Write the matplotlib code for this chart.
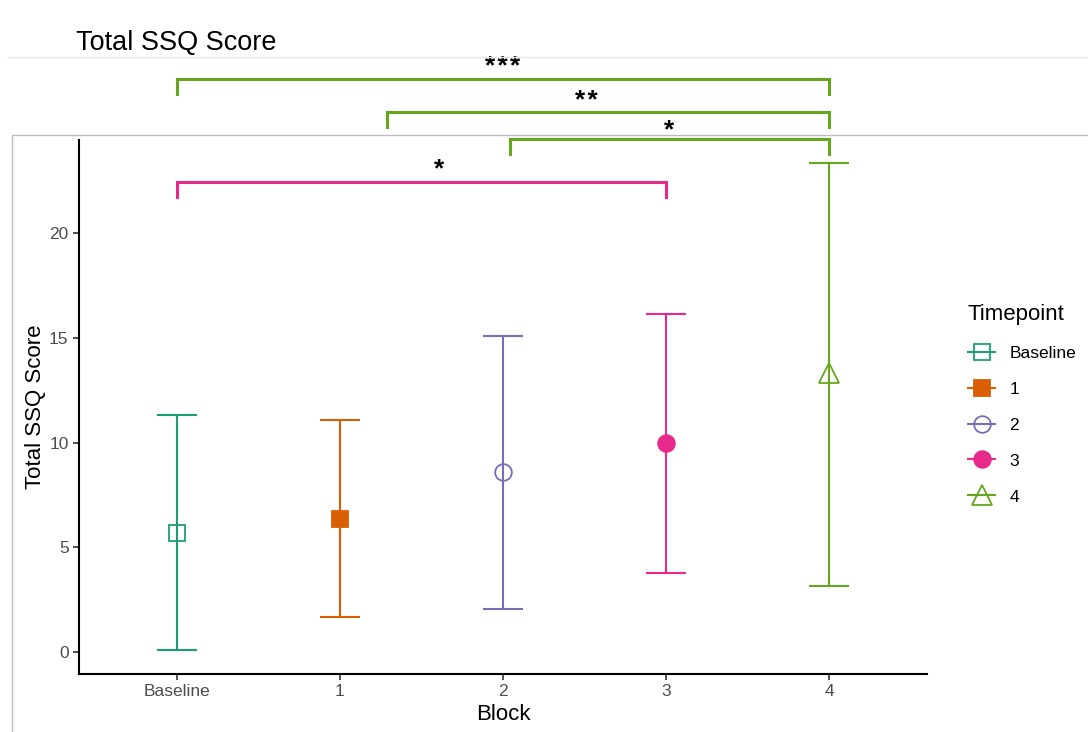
import matplotlib.pyplot as plt
from matplotlib.lines import Line2D

plt.rcParams['font.family'] = ['Liberation Sans', 'DejaVu Sans']

# ------------------------------
# data
# ------------------------------
blocks = ['Baseline', '1', '2', '3', '4']
means = [5.68, 6.35, 8.59, 9.98, 13.32]
lower = [0.10, 1.67, 2.05, 3.77, 3.15]
upper = [11.31, 11.07, 15.08, 16.13, 23.34]
colors = ['#1B9E77', '#D95F02', '#7570B3', '#E7298A', '#66A61E']
markers = ['s', 's', 'o', 'o', '^']
filled = [False, True, False, True, False]

# significance brackets
br_start = [0, 2.04, 1.29, 0]
br_end = [3, 4, 4, 4]
br_y = [22.43, 24.49, 25.78, 27.35]
br_color = ['#E7298A', '#66A61E', '#66A61E', '#66A61E']
lab_text = ['*', '*', '**', '***']
lab_x = [1.61, 3.02, 2.51, 2.0]
lab_y = [23.02, 24.88, 26.29, 27.93]

fig = plt.figure(figsize=(10.88, 7.32), dpi=100)
ax = fig.add_axes([79/1088, 1 - 674/732, (927 - 79)/1088, (674 - 140)/732])

for i in range(len(blocks)):
    ax.errorbar(i, means[i], yerr=[[means[i] - lower[i]], [upper[i] - means[i]]],
                fmt='none', ecolor=colors[i], elinewidth=1.5, capsize=14.5, capthick=1.5)
    ms = 15 if markers[i] == '^' else 12
    ax.plot(i, means[i], marker=markers[i], ms=ms, color=colors[i],
            mfc=colors[i] if filled[i] else 'none', mec=colors[i], mew=1.3, ls='none', zorder=3)

# brackets
tick_drop = 0.7
for x0, x1, y, c in zip(br_start, br_end, br_y, br_color):
    ax.plot([x0, x0, x1, x1], [y - tick_drop, y, y, y - tick_drop], color=c, lw=2.2,
            clip_on=False, solid_joinstyle='miter')
for t, x, y in zip(lab_text, lab_x, lab_y):
    ax.text(x, y, '\u200a'.join(t), ha='center', va='center', fontsize=19,
            fontweight='bold', clip_on=False)

ax.set_xlim(-0.6, 4.6)
ax.set_ylim(-1.05, 24.44)
ax.set_xticks(range(len(blocks)))
ax.set_xticklabels(blocks)
ax.set_yticks([0, 5, 10, 15, 20])
ax.tick_params(axis='both', colors='#333333', labelcolor='#4D4D4D', labelsize=12.5,
               length=4, width=1.2)
for s in ['top', 'right']:
    ax.spines[s].set_visible(False)
for s in ['left', 'bottom']:
    ax.spines[s].set_linewidth(1.5)
    ax.spines[s].set_color('black')
ax.set_xlabel('Block', fontsize=16, labelpad=3)
ax.set_ylabel('Total SSQ Score', fontsize=16, labelpad=2)

# legend
handles = []
for i in range(len(blocks)):
    ms = 15 if markers[i] == '^' else 12
    handles.append(Line2D([0], [0], color=colors[i], marker=markers[i], ms=ms, lw=1.5,
                          mfc=colors[i] if filled[i] else 'none', mec=colors[i], mew=1.3))
leg = fig.legend(handles, blocks, title='Timepoint', loc='upper left',
                 bbox_to_anchor=(952/1088, 1 - 288/732), frameon=False, fontsize=12.5,
                 title_fontsize=16, handlelength=1.6, labelspacing=1.2, handletextpad=0.8)
leg._legend_box.align = 'left'

# title and screenshot border lines
fig.text(76/1088, 1 - 43/732, 'Total SSQ Score', fontsize=19.5, va='center', ha='left')
fig.add_artist(Line2D([8/1088, 1], [1 - 57/732, 1 - 57/732], color='#E6E6E6', lw=1))
fig.add_artist(Line2D([12/1088, 12/1088, 1], [0, 1 - 135/732, 1 - 135/732], color='#BDBDBD', lw=1))

fig.savefig('out.png', dpi=100)
